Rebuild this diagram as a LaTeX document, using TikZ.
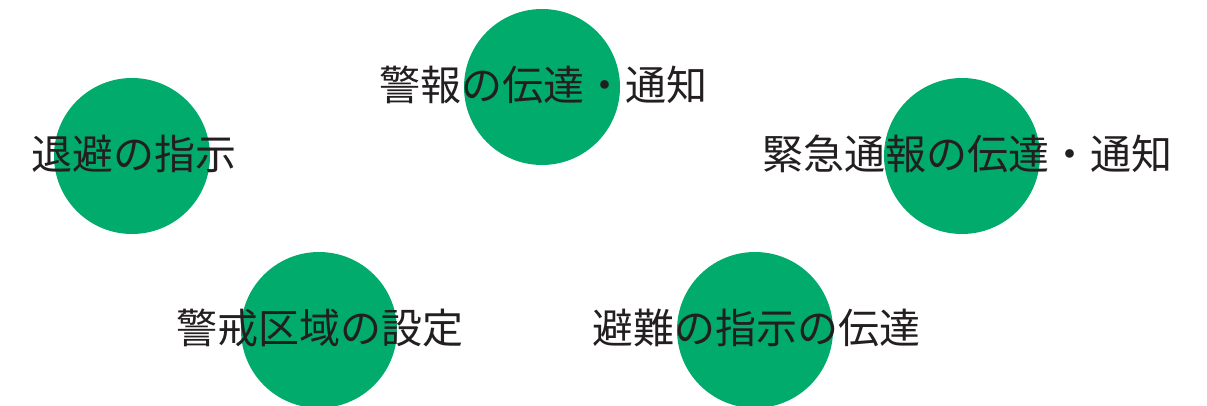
\documentclass[tikz,border=0pt]{standalone}
\usepackage{fontspec}
\newfontfamily\cjk{Noto Sans CJK JP}
\definecolor{grn}{HTML}{00AB6B}
\definecolor{txt}{HTML}{231F20}
\begin{document}
\begin{tikzpicture}[x=1pt,y=-1pt,
  dot/.style={circle,fill=grn,inner sep=0pt,minimum size=156pt},
  lbl/.style={text=txt,inner sep=0pt,font=\cjk\fontsize{41}{44}\selectfont}]
\useasboundingbox (0,0) rectangle (1207,406);
\node[dot] (c1) at (542,87) {};
\node[dot] (c2) at (132,156) {};
\node[dot] (c3) at (962,156) {};
\node[dot] (c4) at (319,330) {};
\node[dot] (c5) at (755,330) {};
\node[lbl] (t1) at (543,85) {警報の伝達・通知};
\node[lbl] (t2) at (134,154) {退避の指示};
\node[lbl] (t3) at (967,154) {緊急通報の伝達・通知};
\node[lbl] (t4) at (320,328) {警戒区域の設定};
\node[lbl] (t5) at (756,328) {避難の指示の伝達};
\end{tikzpicture}
\end{document}
